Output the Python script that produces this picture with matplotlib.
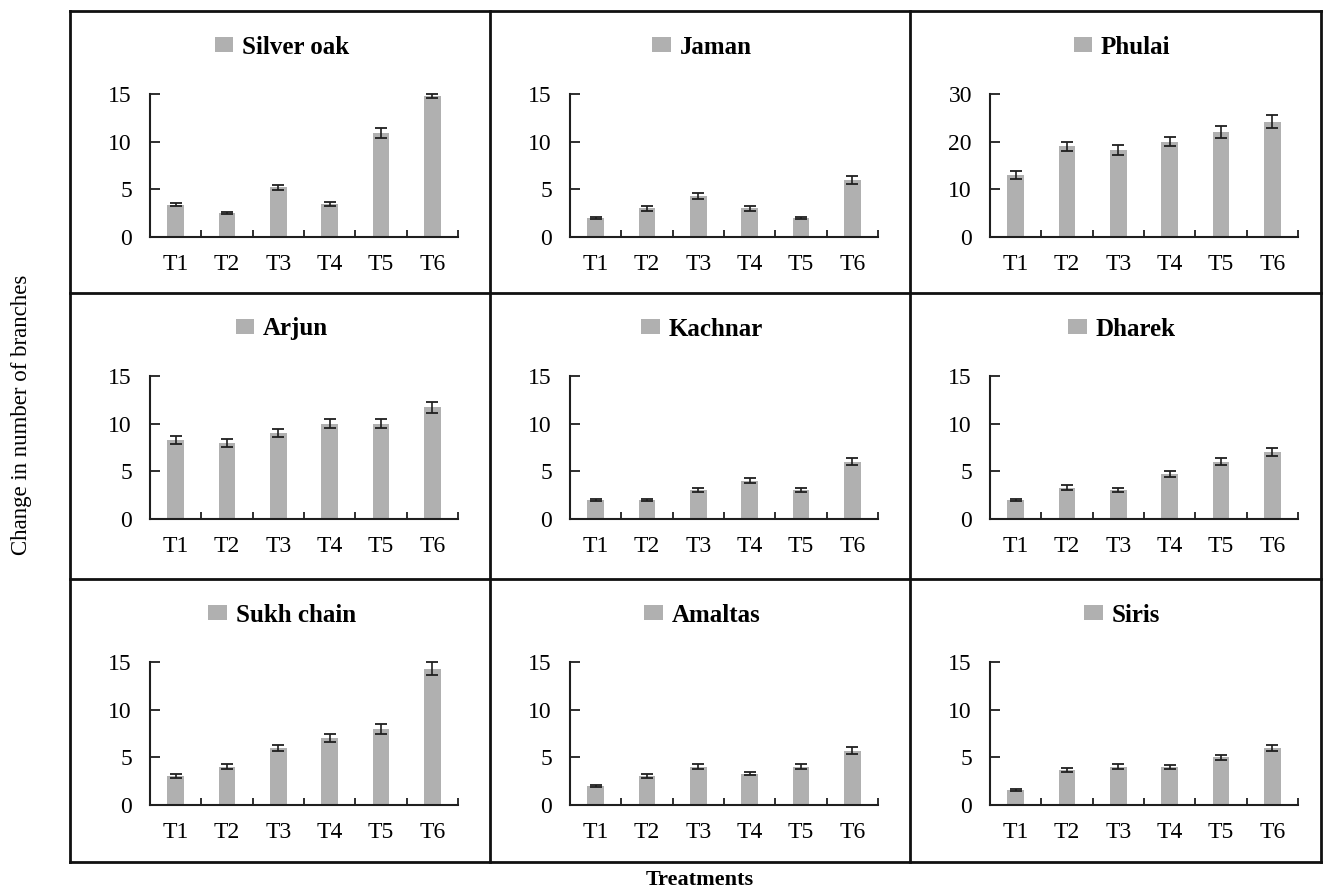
import matplotlib
matplotlib.use('Agg')
import matplotlib.pyplot as plt
from matplotlib.lines import Line2D
import numpy as np

plt.rcParams['font.family'] = ['Liberation Serif', 'DejaVu Serif']

# Data
treatments = ['T1', 'T2', 'T3', 'T4', 'T5', 'T6']
species = ['Silver oak', 'Jaman', 'Phulai',
           'Arjun', 'Kachnar', 'Dharek',
           'Sukh chain', 'Amaltas', 'Siris']

silver_oak = [3.4, 2.5, 5.2, 3.5, 10.9, 14.8]
silver_oak_err = [0.2, 0.1, 0.3, 0.2, 0.55, 0.2]
jaman = [2.0, 3.0, 4.3, 3.0, 2.0, 6.0]
jaman_err = [0.15, 0.25, 0.3, 0.25, 0.15, 0.4]
phulai = [13.0, 19.0, 18.3, 20.0, 22.0, 24.2]
phulai_err = [0.8, 1.0, 1.0, 1.0, 1.2, 1.3]
arjun = [8.3, 8.0, 9.0, 10.0, 10.0, 11.7]
arjun_err = [0.4, 0.4, 0.4, 0.5, 0.5, 0.6]
kachnar = [2.0, 2.0, 3.0, 4.0, 3.0, 6.0]
kachnar_err = [0.1, 0.1, 0.2, 0.25, 0.2, 0.35]
dharek = [2.0, 3.3, 3.0, 4.7, 6.0, 7.0]
dharek_err = [0.1, 0.25, 0.2, 0.3, 0.35, 0.4]
sukh_chain = [3.0, 4.0, 6.0, 7.0, 8.0, 14.3]
sukh_chain_err = [0.2, 0.25, 0.3, 0.4, 0.5, 0.7]
amaltas = [2.0, 3.0, 4.0, 3.3, 4.0, 5.7]
amaltas_err = [0.1, 0.2, 0.25, 0.2, 0.25, 0.35]
siris = [1.6, 3.7, 4.0, 4.0, 5.0, 6.0]
siris_err = [0.1, 0.2, 0.25, 0.2, 0.25, 0.3]

values = [silver_oak, jaman, phulai, arjun, kachnar, dharek, sukh_chain, amaltas, siris]
errors = [silver_oak_err, jaman_err, phulai_err, arjun_err, kachnar_err, dharek_err,
          sukh_chain_err, amaltas_err, siris_err]
y_max = [15, 15, 30, 15, 15, 15, 15, 15, 15]

W, H = 1323, 892
fig = plt.figure(figsize=(W / 100, H / 100), dpi=100)

col_edges = [70, 490, 910, 1321]
row_edges = [11, 293, 579, 862]

bar_color = '#b0b0b0'
dark = '#1f1f1f'

for i, name in enumerate(species):
    r, c = divmod(i, 3)
    px_left = col_edges[c]
    px_top = row_edges[r]
    ax_left = px_left + 80
    ax_top = px_top + 83
    ax_w, ax_h = 308, 143
    ax = fig.add_axes([ax_left / W, 1 - (ax_top + ax_h) / H, ax_w / W, ax_h / H])

    x = np.arange(1, 7)
    bars = ax.bar(x, values[i], width=0.32, color=bar_color, label=name, zorder=2)
    ax.errorbar(x, values[i], yerr=errors[i], fmt='none', ecolor=dark,
                elinewidth=1.2, capsize=4.5, capthick=1.3, zorder=3, clip_on=False)

    ax.set_xlim(0.5, 6.5)
    ax.set_ylim(0, y_max[i])
    step = y_max[i] / 3
    ax.set_yticks(np.arange(0, y_max[i] + 0.1, step))
    ax.set_xticks(x)
    ax.set_xticklabels(treatments)
    ax.set_xticks(np.arange(0.5, 7, 1), minor=True)

    for s in ['top', 'right']:
        ax.spines[s].set_visible(False)
    for s in ['left', 'bottom']:
        ax.spines[s].set_color(dark)
        ax.spines[s].set_linewidth(1.5)

    ax.tick_params(axis='y', direction='in', length=7, width=1.3, color=dark,
                   labelsize=17, pad=13)
    ax.tick_params(axis='x', which='major', length=0, labelsize=17, pad=12)
    ax.tick_params(axis='x', which='minor', direction='in', length=5, width=1.3, color=dark)
    ax.patch.set_visible(False)

    # legend at the top of each panel
    leg_x = (px_left + 212) / W
    leg_y = 1 - (px_top + 36) / H
    ax.legend(handles=[bars], loc='center', bbox_to_anchor=(leg_x, leg_y),
              bbox_transform=fig.transFigure, frameon=False,
              prop={'size': 18, 'weight': 'bold'},
              handlelength=0.75, handleheight=0.55, handletextpad=0.35,
              borderpad=0, borderaxespad=0)

# panel frame lines
for xe in col_edges:
    fig.add_artist(Line2D([xe / W, xe / W], [1 - row_edges[0] / H, 1 - row_edges[-1] / H],
                          transform=fig.transFigure, color='#111111', lw=2))
for ye in row_edges:
    fig.add_artist(Line2D([col_edges[0] / W, col_edges[-1] / W], [1 - ye / H, 1 - ye / H],
                          transform=fig.transFigure, color='#111111', lw=2))

fig.text(700 / W, 1 - 880 / H, 'Treatments', ha='center', va='center',
         fontsize=16, fontweight='bold')
fig.text(22 / W, 1 - 415 / H, 'Change in number of branches', ha='center', va='center',
         rotation=90, fontsize=16.5)

fig.savefig('out.png', dpi=100)
